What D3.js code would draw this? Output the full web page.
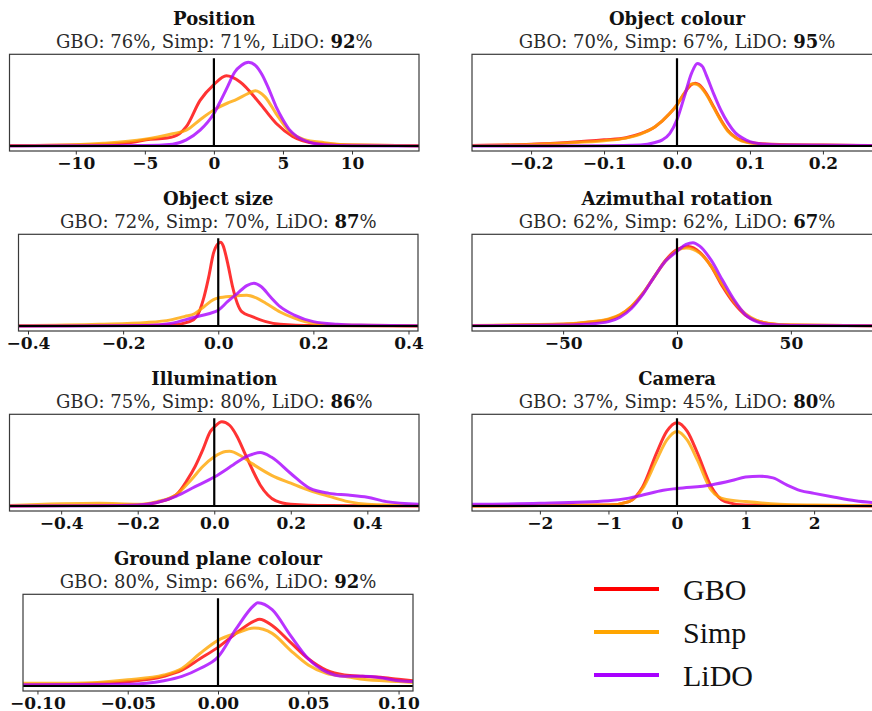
<!DOCTYPE html>
<html>
<head>
<meta charset="utf-8">
<script src="https://cdn.jsdelivr.net/npm/d3@7"></script>
<style>
body { margin: 0; background: #fff; }
text { font-family: "DejaVu Serif", "Liberation Serif", serif; }
text.leg { font-family: "Liberation Serif", "DejaVu Serif", serif; }
</style>
</head>
<body>
<script>
// panel titles and scores
var titles = ["Position", "Object colour", "Object size", "Azimuthal rotation",
              "Illumination", "Camera", "Ground plane colour"];
var gboScores  = [76, 70, 72, 62, 75, 37, 80];
var simpScores = [71, 67, 70, 62, 80, 45, 66];
var lidoScores = [92, 95, 87, 67, 86, 80, 92];

// x range of each density plot and its tick values
var xExtents = [[-14.8, 14.85], [-0.281, 0.281], [-0.42, 0.42], [-90, 90],
                [-0.535, 0.535], [-2.99, 2.99], [-0.108, 0.108]];
var tickValues = [[-10, -5, 0, 5, 10], [-0.2, -0.1, 0, 0.1, 0.2], [-0.4, -0.2, 0, 0.2, 0.4],
                  [-50, 0, 50], [-0.4, -0.2, 0, 0.2, 0.4], [-2, -1, 0, 1, 2],
                  [-0.1, -0.05, 0, 0.05, 0.1]];
var tickFormats = ["d", ".1f", ".1f", "d", ".1f", "d", ".2f"];

// density curves [x, relative density] (100 = top of the zero line)
var positionGBO = [[-14.8,0.5],[-10,1],[-6,4],[-4.9,7],[-3.4,9],[-2.5,14],[-2,22],[-1,52],[0,70],[0.9,80],[1.9,73],[3.3,49],[4.5,26],[5.7,11],[7.4,3],[10,1],[14.85,0.3]];
var positionSimp = [[-14.8,0.3],[-10,1.5],[-8,3],[-5,7.6],[-3,14],[-2,18],[-1,30],[0,41],[1,49],[1.5,52],[2.5,60],[3,63],[3.7,56],[4.5,37],[5.5,16],[6.5,7.6],[8,3.8],[10,1],[14.85,0.3]];
var positionLiDO = [[-14.8,0],[-5,0.5],[-3,2],[-2,7],[-1,18],[0,37],[0.5,52],[1,68],[1.5,84],[2,92],[2.5,95.4],[3,92],[3.5,81],[4,64],[4.5,45],[5,30],[5.5,18],[6,11],[7,4],[8,1.5],[10,0.3],[14.85,0]];

var colourGBO = [[-0.281,0.5],[-0.2,2],[-0.15,4],[-0.1,7],[-0.07,9.5],[-0.05,14],[-0.03,22],[-0.01,37],[0,47],[0.01,60],[0.02,70],[0.025,71.5],[0.03,70],[0.04,60],[0.05,45],[0.06,30],[0.07,17.5],[0.08,10],[0.1,4],[0.13,2],[0.2,1],[0.281,0.5]];
var colourSimp = [[-0.281,0.5],[-0.2,1.8],[-0.15,3.5],[-0.1,6],[-0.07,9],[-0.05,13.5],[-0.03,22],[-0.01,37],[0,47],[0.01,60],[0.018,70],[0.022,71],[0.028,70],[0.04,59],[0.05,44],[0.06,29],[0.07,16.5],[0.08,9.5],[0.1,3.5],[0.13,1.5],[0.2,0.8],[0.281,0.4]];
var colourLiDO = [[-0.281,0],[-0.1,0.3],[-0.05,1],[-0.03,4],[-0.02,7],[-0.01,14],[0,30],[0.01,56],[0.02,83],[0.028,94],[0.035,90.5],[0.04,81],[0.05,60],[0.06,41],[0.07,26],[0.08,15],[0.09,9],[0.1,5],[0.12,2],[0.15,1],[0.281,0.4]];

var sizeGBO = [[-0.42,0],[-0.1,1],[-0.06,5],[-0.045,11],[-0.03,33],[-0.02,56],[-0.01,83],[0,94],[0.005,95.4],[0.01,92],[0.02,71],[0.03,45],[0.04,26],[0.05,16],[0.07,11],[0.1,5],[0.13,2],[0.2,0.5],[0.42,0]];
var sizeSimp = [[-0.42,0.5],[-0.25,2],[-0.15,4],[-0.1,7],[-0.07,11],[-0.05,14],[-0.03,22],[-0.01,30],[0,32],[0.03,34],[0.06,35],[0.08,32],[0.1,26],[0.13,16],[0.16,9],[0.2,3],[0.25,1],[0.42,0.3]];
var sizeLiDO = [[-0.42,0],[-0.15,0.5],[-0.1,3],[-0.05,10],[-0.02,14],[0,18],[0.02,28],[0.04,37],[0.06,46],[0.075,48.7],[0.09,45],[0.11,33],[0.13,22],[0.16,12.5],[0.2,5],[0.25,2],[0.3,1],[0.42,0.3]];

var azimuthGBO = [[-90,0.5],[-50,2],[-40,4],[-30,7.6],[-25,12.5],[-20,22],[-15,37],[-10,56],[-5,75],[0,87],[5,90.5],[10,84],[15,68],[20,45],[25,26],[30,12.5],[35,6],[40,3],[50,1],[90,0.3]];
var azimuthSimp = [[-90,0.6],[-50,2.2],[-40,4.3],[-30,8],[-25,13],[-20,22.5],[-15,37],[-10,56],[-5,74],[0,86],[4,89],[10,83],[15,68],[20,47],[25,28],[30,14],[35,6.5],[40,3.2],[50,1.2],[90,0.3]];
var azimuthLiDO = [[-90,0.3],[-50,1],[-40,2],[-30,5],[-25,10],[-20,20],[-15,36],[-10,56],[-5,74],[0,85],[4,93],[7,95],[10,91],[15,75],[20,52],[25,30],[30,13],[35,5],[40,2],[50,0.6],[90,0.2]];

var illumGBO = [[-0.535,0],[-0.2,1],[-0.15,4],[-0.1,12.5],[-0.07,30],[-0.05,45],[-0.03,64],[-0.01,85],[0,90],[0.02,96],[0.04,92],[0.06,79],[0.08,60],[0.1,41],[0.12,24],[0.14,12.5],[0.16,6],[0.2,2],[0.3,0.5],[0.535,0]];
var illumSimp = [[-0.535,0.5],[-0.3,3],[-0.2,2],[-0.15,5],[-0.1,12.5],[-0.06,30],[-0.03,45],[0,56],[0.03,62],[0.04,62.3],[0.07,57],[0.1,48],[0.15,35],[0.2,26],[0.25,17.5],[0.3,11],[0.35,5],[0.4,2],[0.535,0.5]];
var illumLiDO = [[-0.535,0],[-0.3,0.3],[-0.2,1],[-0.15,4],[-0.1,11],[-0.05,22],[0,33],[0.05,47],[0.08,55.5],[0.1,59],[0.12,61],[0.15,55.5],[0.2,37],[0.25,20],[0.3,14.4],[0.35,12.5],[0.4,10],[0.45,5],[0.535,2]];

var cameraGBO = [[-2.99,0],[-1,1],[-0.7,5],[-0.5,22],[-0.3,60],[-0.15,85],[0,95],[0.15,85],[0.3,60],[0.5,22],[0.7,5],[1,1],[2.99,0]];
var cameraSimp = [[-2.99,0],[-1,1],[-0.7,5],[-0.5,20],[-0.3,52],[-0.15,75],[0,85],[0.15,75],[0.3,52],[0.5,18],[0.7,7.6],[1,5],[1.5,2],[2,1],[2.99,0.3]];
var cameraLiDO = [[-2.99,2],[-2,3],[-1,6],[-0.7,9],[-0.5,12.5],[-0.2,18],[0,20],[0.5,24],[0.8,29],[1,33],[1.2,34],[1.4,32],[1.6,24],[1.8,17.5],[2,14.4],[2.3,10],[2.6,6],[2.99,3]];

var groundGBO = [[-0.108,1],[-0.08,2],[-0.05,5],[-0.03,11],[-0.02,18],[-0.01,31],[0,44],[0.01,60],[0.02,74],[0.023,76],[0.03,69],[0.04,50],[0.05,31],[0.06,18],[0.07,12.5],[0.08,11],[0.09,10],[0.1,7.6],[0.108,6]];
var groundSimp = [[-0.108,3],[-0.08,3],[-0.05,7],[-0.03,12.5],[-0.02,20],[-0.01,37],[0,52],[0.01,60],[0.02,66],[0.03,60],[0.04,41],[0.05,24],[0.06,14.4],[0.07,11],[0.08,7.6],[0.1,5],[0.108,4]];
var groundLiDO = [[-0.108,1.5],[-0.05,2],[-0.03,6],[-0.02,11],[-0.01,20],[0,33],[0.01,65],[0.02,92],[0.022,95],[0.03,87],[0.04,58],[0.05,31],[0.06,16],[0.07,11],[0.08,11],[0.09,9.5],[0.1,6],[0.108,5]];

var series = ["GBO", "Simp", "LiDO"];
var colors = ["#ff0000", "#ffa500", "#a800ff"];
var curves = [
  [positionGBO, positionSimp, positionLiDO],
  [colourGBO, colourSimp, colourLiDO],
  [sizeGBO, sizeSimp, sizeLiDO],
  [azimuthGBO, azimuthSimp, azimuthLiDO],
  [illumGBO, illumSimp, illumLiDO],
  [cameraGBO, cameraSimp, cameraLiDO],
  [groundGBO, groundSimp, groundLiDO]
];

var width = 872, height = 711;

// plot boxes (left, right) per panel, row tops
var boxX = [[9.5, 419], [472, 882], [18.5, 418], [472, 882], [9.5, 419], [472, 882], [23, 413]];
var rowTop = [54.3, 234.3, 414.3, 594.3];
var boxH = 96.7;

var svg = d3.select("body").append("svg")
  .attr("width", width)
  .attr("height", height)
  .style("display", "block");

titles.forEach(function(title, i) {
  var top = rowTop[Math.floor(i / 2)];
  var bottom = top + boxH;
  var left = boxX[i][0], right = boxX[i][1];
  var cx = (left + right) / 2;

  var x = d3.scaleLinear().domain(xExtents[i]).range([left, right]);
  var y = d3.scaleLinear().domain([-5.7, 104.5]).range([bottom, top]);

  var g = svg.append("g");

  // title and score line
  g.append("text")
    .attr("x", cx).attr("y", top - 29.5)
    .attr("text-anchor", "middle")
    .attr("font-weight", "bold").attr("font-size", 18)
    .attr("fill", "#111")
    .text(title);

  var sub = g.append("text")
    .attr("x", cx).attr("y", top - 6.8)
    .attr("text-anchor", "middle")
    .attr("font-size", 18)
    .attr("fill", "#2a2a2a");
  sub.append("tspan").text("GBO: " + gboScores[i] + "%, Simp: " + simpScores[i] + "%, LiDO: ");
  sub.append("tspan").attr("font-weight", "bold").attr("fill", "#111").text(lidoScores[i]);
  sub.append("tspan").text("%");

  // clip for curves
  var clipId = "clip" + i;
  svg.append("clipPath").attr("id", clipId)
    .append("rect").attr("x", left).attr("y", top).attr("width", right - left).attr("height", boxH);

  var line = d3.line()
    .x(function(d) { return x(d[0]); })
    .y(function(d) { return y(d[1]); })
    .curve(d3.curveMonotoneX);

  var plot = g.append("g").attr("clip-path", "url(#" + clipId + ")");

  curves[i].forEach(function(c, k) {
    plot.append("path")
      .attr("d", line(c))
      .attr("fill", "none")
      .attr("stroke", colors[k])
      .attr("stroke-opacity", 0.8)
      .attr("stroke-width", 3)
      .attr("stroke-linejoin", "round");
  });

  // zero lines
  plot.append("line")
    .attr("x1", left).attr("x2", right)
    .attr("y1", y(0)).attr("y2", y(0))
    .attr("stroke", "#000").attr("stroke-width", 2.2);
  plot.append("line")
    .attr("x1", x(0)).attr("x2", x(0))
    .attr("y1", y(0)).attr("y2", y(100))
    .attr("stroke", "#000").attr("stroke-width", 2.2);

  // frame
  g.append("rect")
    .attr("x", left).attr("y", top)
    .attr("width", right - left).attr("height", boxH)
    .attr("fill", "none").attr("stroke", "#3a3a3a").attr("stroke-width", 1.2);

  // x axis
  var axis = d3.axisBottom(x)
    .tickValues(tickValues[i])
    .tickSize(3.5)
    .tickPadding(4)
    .tickFormat(d3.format(tickFormats[i]));

  var ax = g.append("g")
    .attr("transform", "translate(0," + bottom + ")")
    .call(axis);
  ax.attr("font-family", null).attr("font-size", null);
  ax.select(".domain").remove();
  ax.selectAll(".tick line").attr("stroke", "#333").attr("stroke-width", 1);
  ax.selectAll(".tick text")
    .attr("dy", null)
    .attr("y", 17.5)
    .attr("font-weight", "bold").attr("font-size", 17)
    .attr("fill", "#111");
});

// legend
var legend = svg.append("g").attr("class", "legend");
var legendY = d3.scalePoint().domain(series).range([589, 675]);
series.forEach(function(s, k) {
  legend.append("line")
    .attr("x1", 594).attr("x2", 659)
    .attr("y1", legendY(s)).attr("y2", legendY(s))
    .attr("stroke", colors[k]).attr("stroke-width", 4);
  legend.append("text")
    .attr("class", "leg")
    .attr("x", 683).attr("y", legendY(s) + 10.5)
    .attr("font-size", 30)
    .attr("fill", "#111")
    .text(s);
});
</script>
</body>
</html>
